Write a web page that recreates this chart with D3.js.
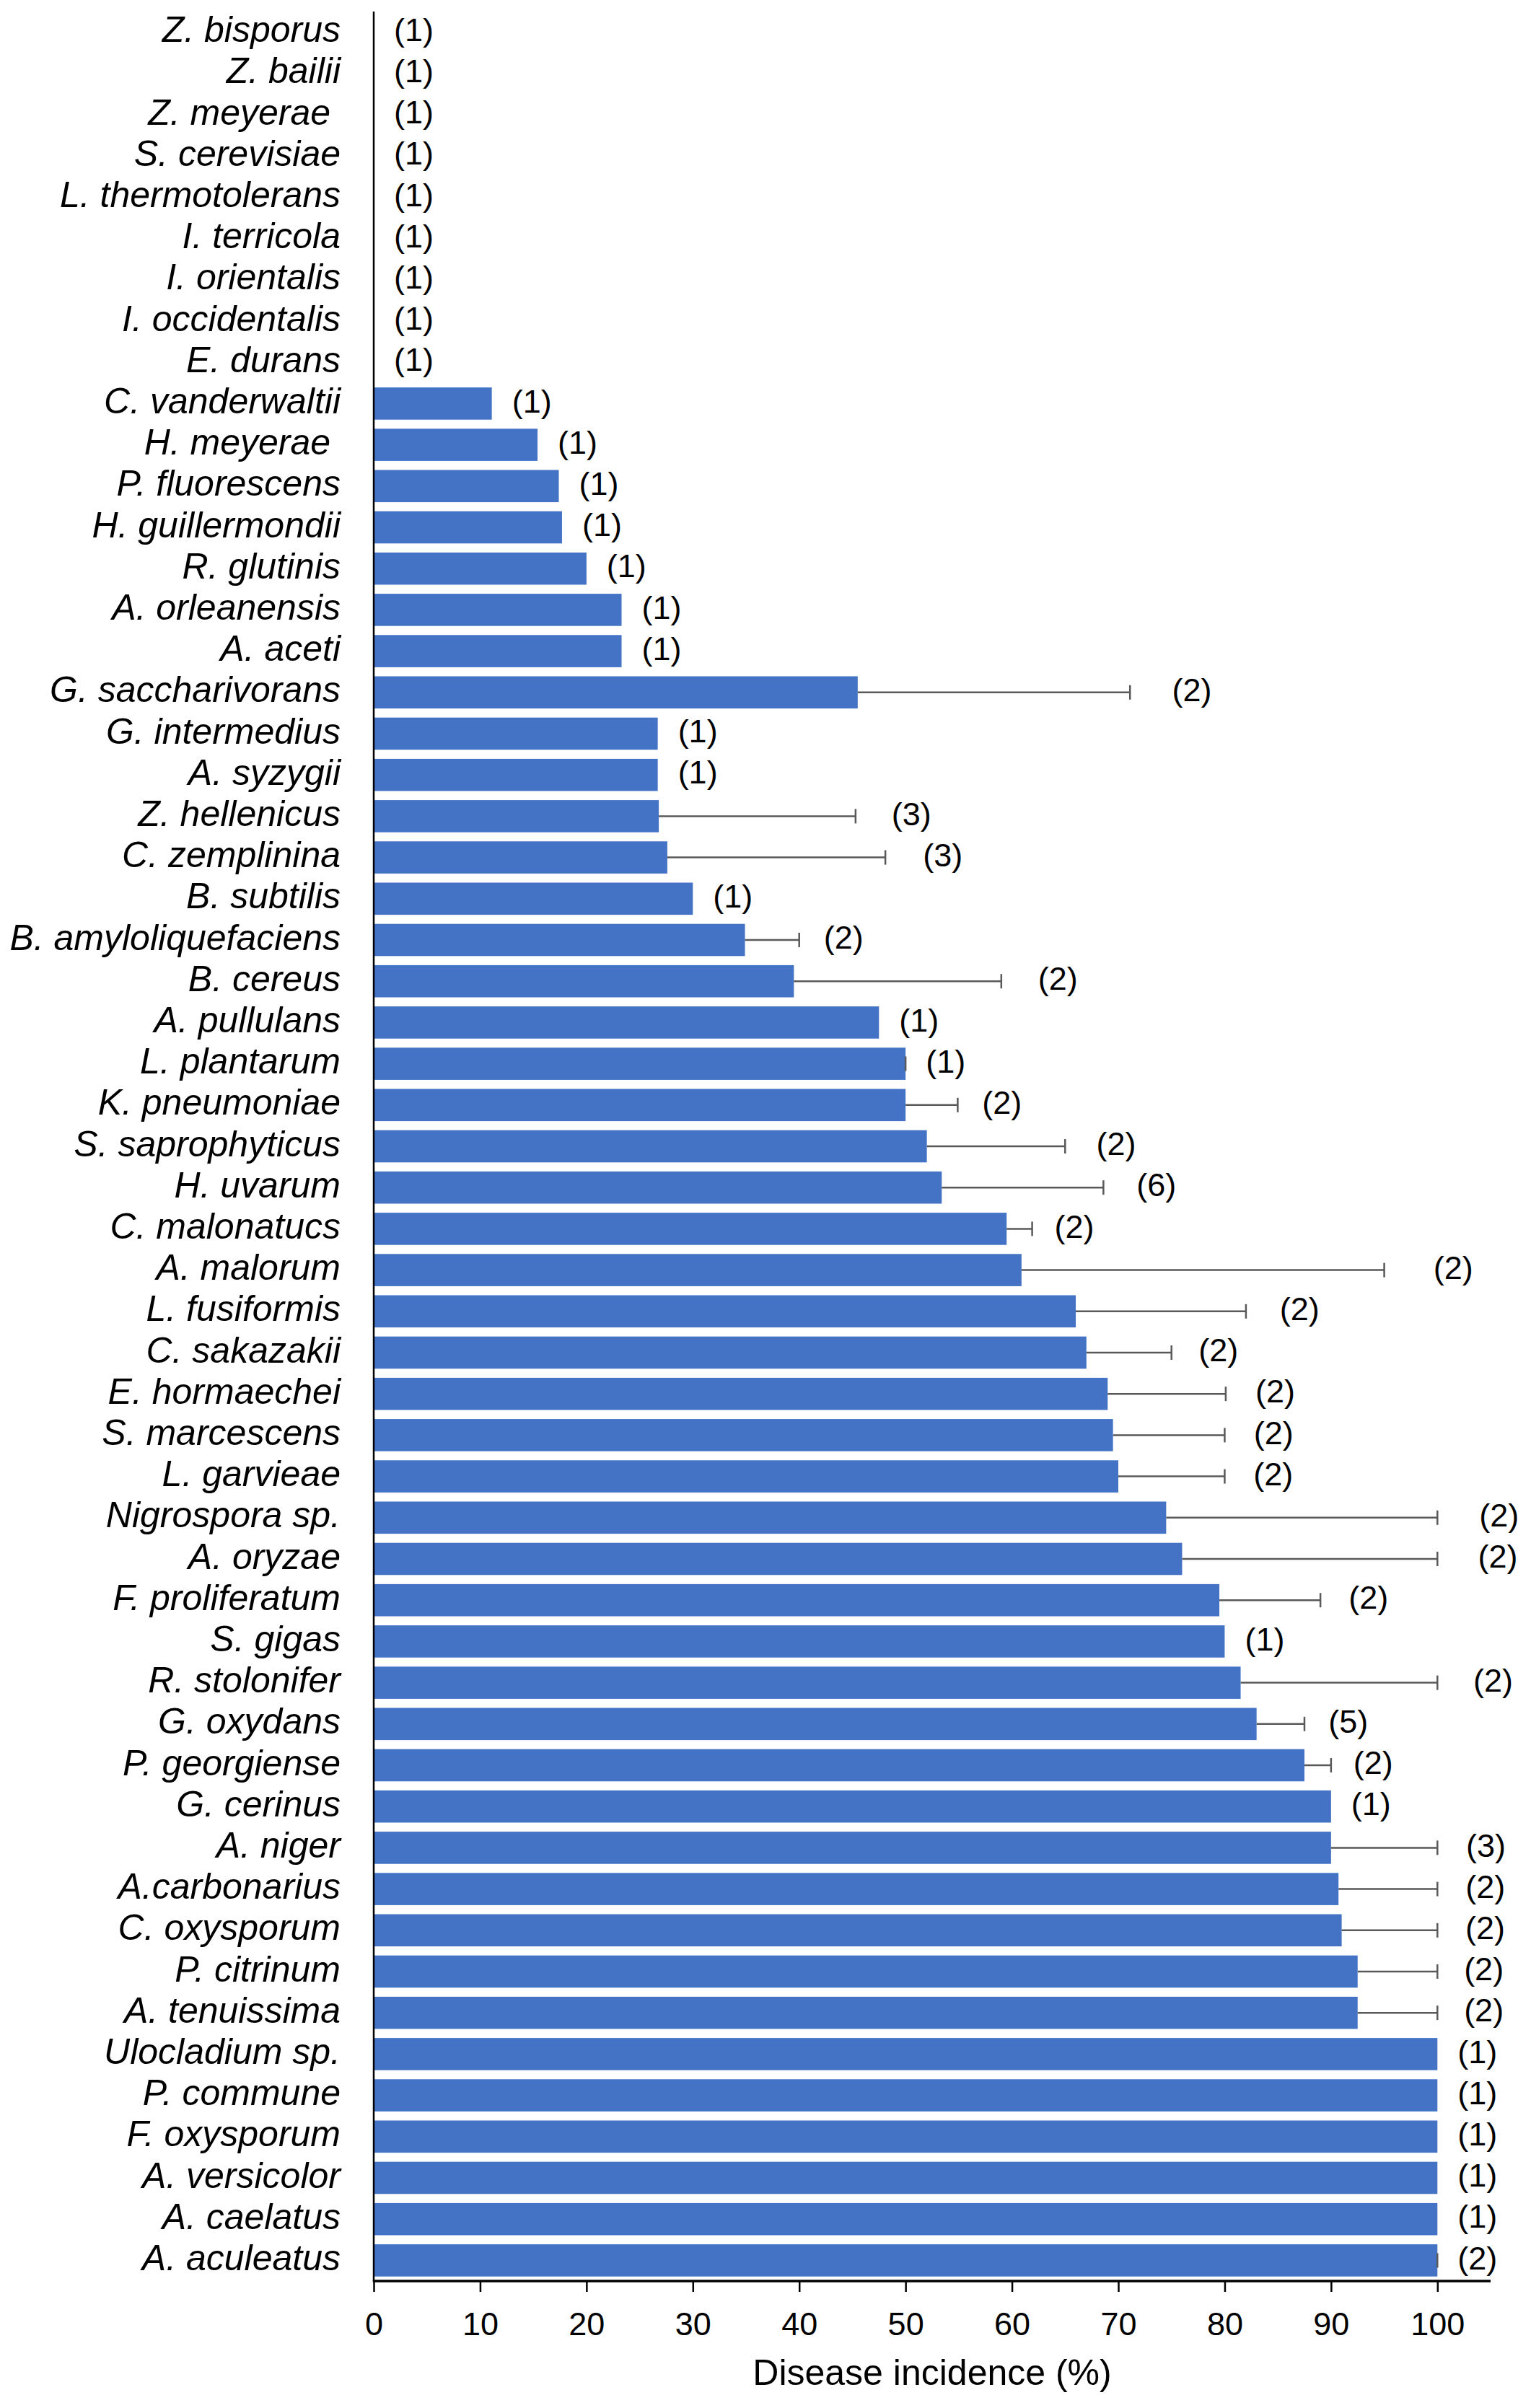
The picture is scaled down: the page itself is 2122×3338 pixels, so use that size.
<!DOCTYPE html>
<html>
<head>
<meta charset="utf-8">
<script src="https://cdn.jsdelivr.net/npm/d3@7"></script>
<style>
  html, body { margin: 0; padding: 0; background: #fff; }
  svg { display: block; }
</style>
</head>
<body>
<script>
// ---- Data ----
const species = [
  "Z. bisporus", "Z. bailii", "Z. meyerae\u00A0", "S. cerevisiae", "L. thermotolerans",
  "I. terricola", "I. orientalis", "I. occidentalis", "E. durans", "C. vanderwaltii",
  "H. meyerae\u00A0", "P. fluorescens", "H. guillermondii", "R. glutinis", "A. orleanensis",
  "A. aceti", "G. saccharivorans", "G. intermedius", "A. syzygii", "Z. hellenicus",
  "C. zemplinina", "B. subtilis", "B. amyloliquefaciens", "B. cereus", "A. pullulans",
  "L. plantarum", "K. pneumoniae", "S. saprophyticus", "H. uvarum", "C. malonatucs",
  "A. malorum", "L. fusiformis", "C. sakazakii", "E. hormaechei", "S. marcescens",
  "L. garvieae", "Nigrospora sp.", "A. oryzae", "F. proliferatum", "S. gigas",
  "R. stolonifer", "G. oxydans", "P. georgiense", "G. cerinus", "A. niger",
  "A.carbonarius", "C. oxysporum", "P. citrinum", "A. tenuissima", "Ulocladium sp.",
  "P. commune", "F. oxysporum", "A. versicolor", "A. caelatus", "A. aculeatus"
];
const incidence = [
  0, 0, 0, 0, 0,
  0, 0, 0, 0, 11.1,
  15.4, 17.4, 17.7, 20.0, 23.3,
  23.3, 45.5, 26.7, 26.7, 26.8,
  27.6, 30.0, 34.9, 39.5, 47.5,
  50.0, 50.0, 52.0, 53.4, 59.5,
  60.9, 66.0, 67.0, 69.0, 69.5,
  70.0, 74.5, 76.0, 79.5, 80.0,
  81.5, 83.0, 87.5, 90.0, 90.0,
  90.7, 91.0, 92.5, 92.5, 100,
  100, 100, 100, 100, 100
];
// upper error (SD), null = no error bar drawn
const errorSD = [
  null, null, null, null, null,
  null, null, null, null, null,
  null, null, null, null, null,
  null, 25.6, null, null, 18.5,
  20.5, null, 5.1, 19.5, null,
  0, 4.9, 13.0, 15.2, 2.4,
  34.1, 16.0, 8.0, 11.1, 10.5,
  10.0, 25.5, 24.0, 9.5, null,
  18.5, 4.5, 2.5, null, 10.0,
  9.3, 9.0, 7.5, 7.5, null,
  null, null, null, null, 0
];
const isolates = [
  1, 1, 1, 1, 1,
  1, 1, 1, 1, 1,
  1, 1, 1, 1, 1,
  1, 2, 1, 1, 3,
  3, 1, 2, 2, 1,
  1, 2, 2, 6, 2,
  2, 2, 2, 2, 2,
  2, 2, 2, 2, 1,
  2, 5, 2, 1, 3,
  2, 2, 2, 2, 1,
  1, 1, 1, 1, 2
];
const xTicks = [0, 10, 20, 30, 40, 50, 60, 70, 80, 90, 100];
const xTitle = "Disease incidence (%)";

(function () {
  // ---- Layout ----
  const W = 2122, H = 3338;
  const mLeft = 518, mRight = 2066, mTop = 16, mBottom = 3162;
  const barColor = "#4472C4";
  const errColor = "#595959";
  const font = "Arial, 'Liberation Sans', Helvetica, sans-serif";

  const rows = species.map((s, i) => ({
    name: s, v: incidence[i], sd: errorSD[i], n: isolates[i]
  }));

  const svg = d3.select("body").append("svg")
    .attr("width", W).attr("height", H)
    .attr("viewBox", `0 0 ${W} ${H}`);

  const x = d3.scaleLinear().domain([0, 105]).range([mLeft, mRight]);
  const y = d3.scaleBand().domain(species).range([mTop, mBottom])
    .paddingInner(0.22).paddingOuter(0.11);

  // Bars
  svg.append("g").selectAll("rect").data(rows).join("rect")
    .attr("x", x(0))
    .attr("y", d => y(d.name))
    .attr("width", d => Math.max(0, x(d.v) - x(0)))
    .attr("height", y.bandwidth())
    .attr("fill", barColor);

  // Error bars (upper only)
  const eb = svg.append("g").attr("stroke", errColor).attr("stroke-width", 2.5).attr("fill", "none");
  rows.filter(d => d.sd !== null).forEach(d => {
    const cy = y(d.name) + y.bandwidth() / 2;
    const x1 = x(d.v), x2 = x(d.v + d.sd);
    if (d.sd > 0) eb.append("line").attr("x1", x1).attr("x2", x2).attr("y1", cy).attr("y2", cy);
    eb.append("line").attr("x1", x2).attr("x2", x2).attr("y1", cy - 10).attr("y2", cy + 10);
  });

  // Isolate count labels
  const cntSize = 45;
  svg.append("g").selectAll("text").data(rows).join("text")
    .attr("x", d => {
      const end = d.sd !== null ? x(d.v + d.sd) : x(d.v);
      const len = d.sd ? x(d.v + d.sd) - x(d.v) : 0;
      return end + 28 + 0.08 * len;
    })
    .attr("y", d => y(d.name) + y.bandwidth() / 2 + cntSize * 0.27)
    .attr("font-family", font)
    .attr("font-size", cntSize)
    .attr("fill", "#000")
    .text(d => `(${d.n})`);

  // Y axis: line + species labels
  svg.append("line")
    .attr("x1", mLeft).attr("x2", mLeft).attr("y1", mTop).attr("y2", mBottom)
    .attr("stroke", "#000").attr("stroke-width", 2.5);

  const nameSize = 50;
  svg.append("g").selectAll("text").data(rows).join("text")
    .attr("x", mLeft - 46)
    .attr("y", d => y(d.name) + y.bandwidth() / 2 + nameSize * 0.27)
    .attr("text-anchor", "end")
    .attr("font-family", font)
    .attr("font-style", "italic")
    .attr("font-size", nameSize)
    .attr("fill", "#000")
    .style("white-space", "pre")
    .text(d => d.name);

  // X axis
  const xAxis = d3.axisBottom(x).tickValues(xTicks).tickSize(15).tickPadding(30)
    .tickFormat(d3.format("d"));
  const gx = svg.append("g").attr("transform", `translate(0,${mBottom})`).call(xAxis);
  gx.select(".domain").remove();
  gx.selectAll(".tick line").attr("stroke", "#000").attr("stroke-width", 2.5);
  gx.selectAll(".tick text")
    .attr("font-family", font).attr("font-size", 45).attr("fill", "#000")
    .attr("dy", null).attr("y", 75);
  svg.append("line")
    .attr("x1", mLeft - 1.25).attr("x2", mRight).attr("y1", mBottom).attr("y2", mBottom)
    .attr("stroke", "#000").attr("stroke-width", 3.5);

  // X title
  svg.append("text")
    .attr("x", (mLeft + mRight) / 2)
    .attr("y", 3306)
    .attr("text-anchor", "middle")
    .attr("font-family", font)
    .attr("font-size", 50)
    .attr("fill", "#000")
    .text(xTitle);
})();
</script>
</body>
</html>
